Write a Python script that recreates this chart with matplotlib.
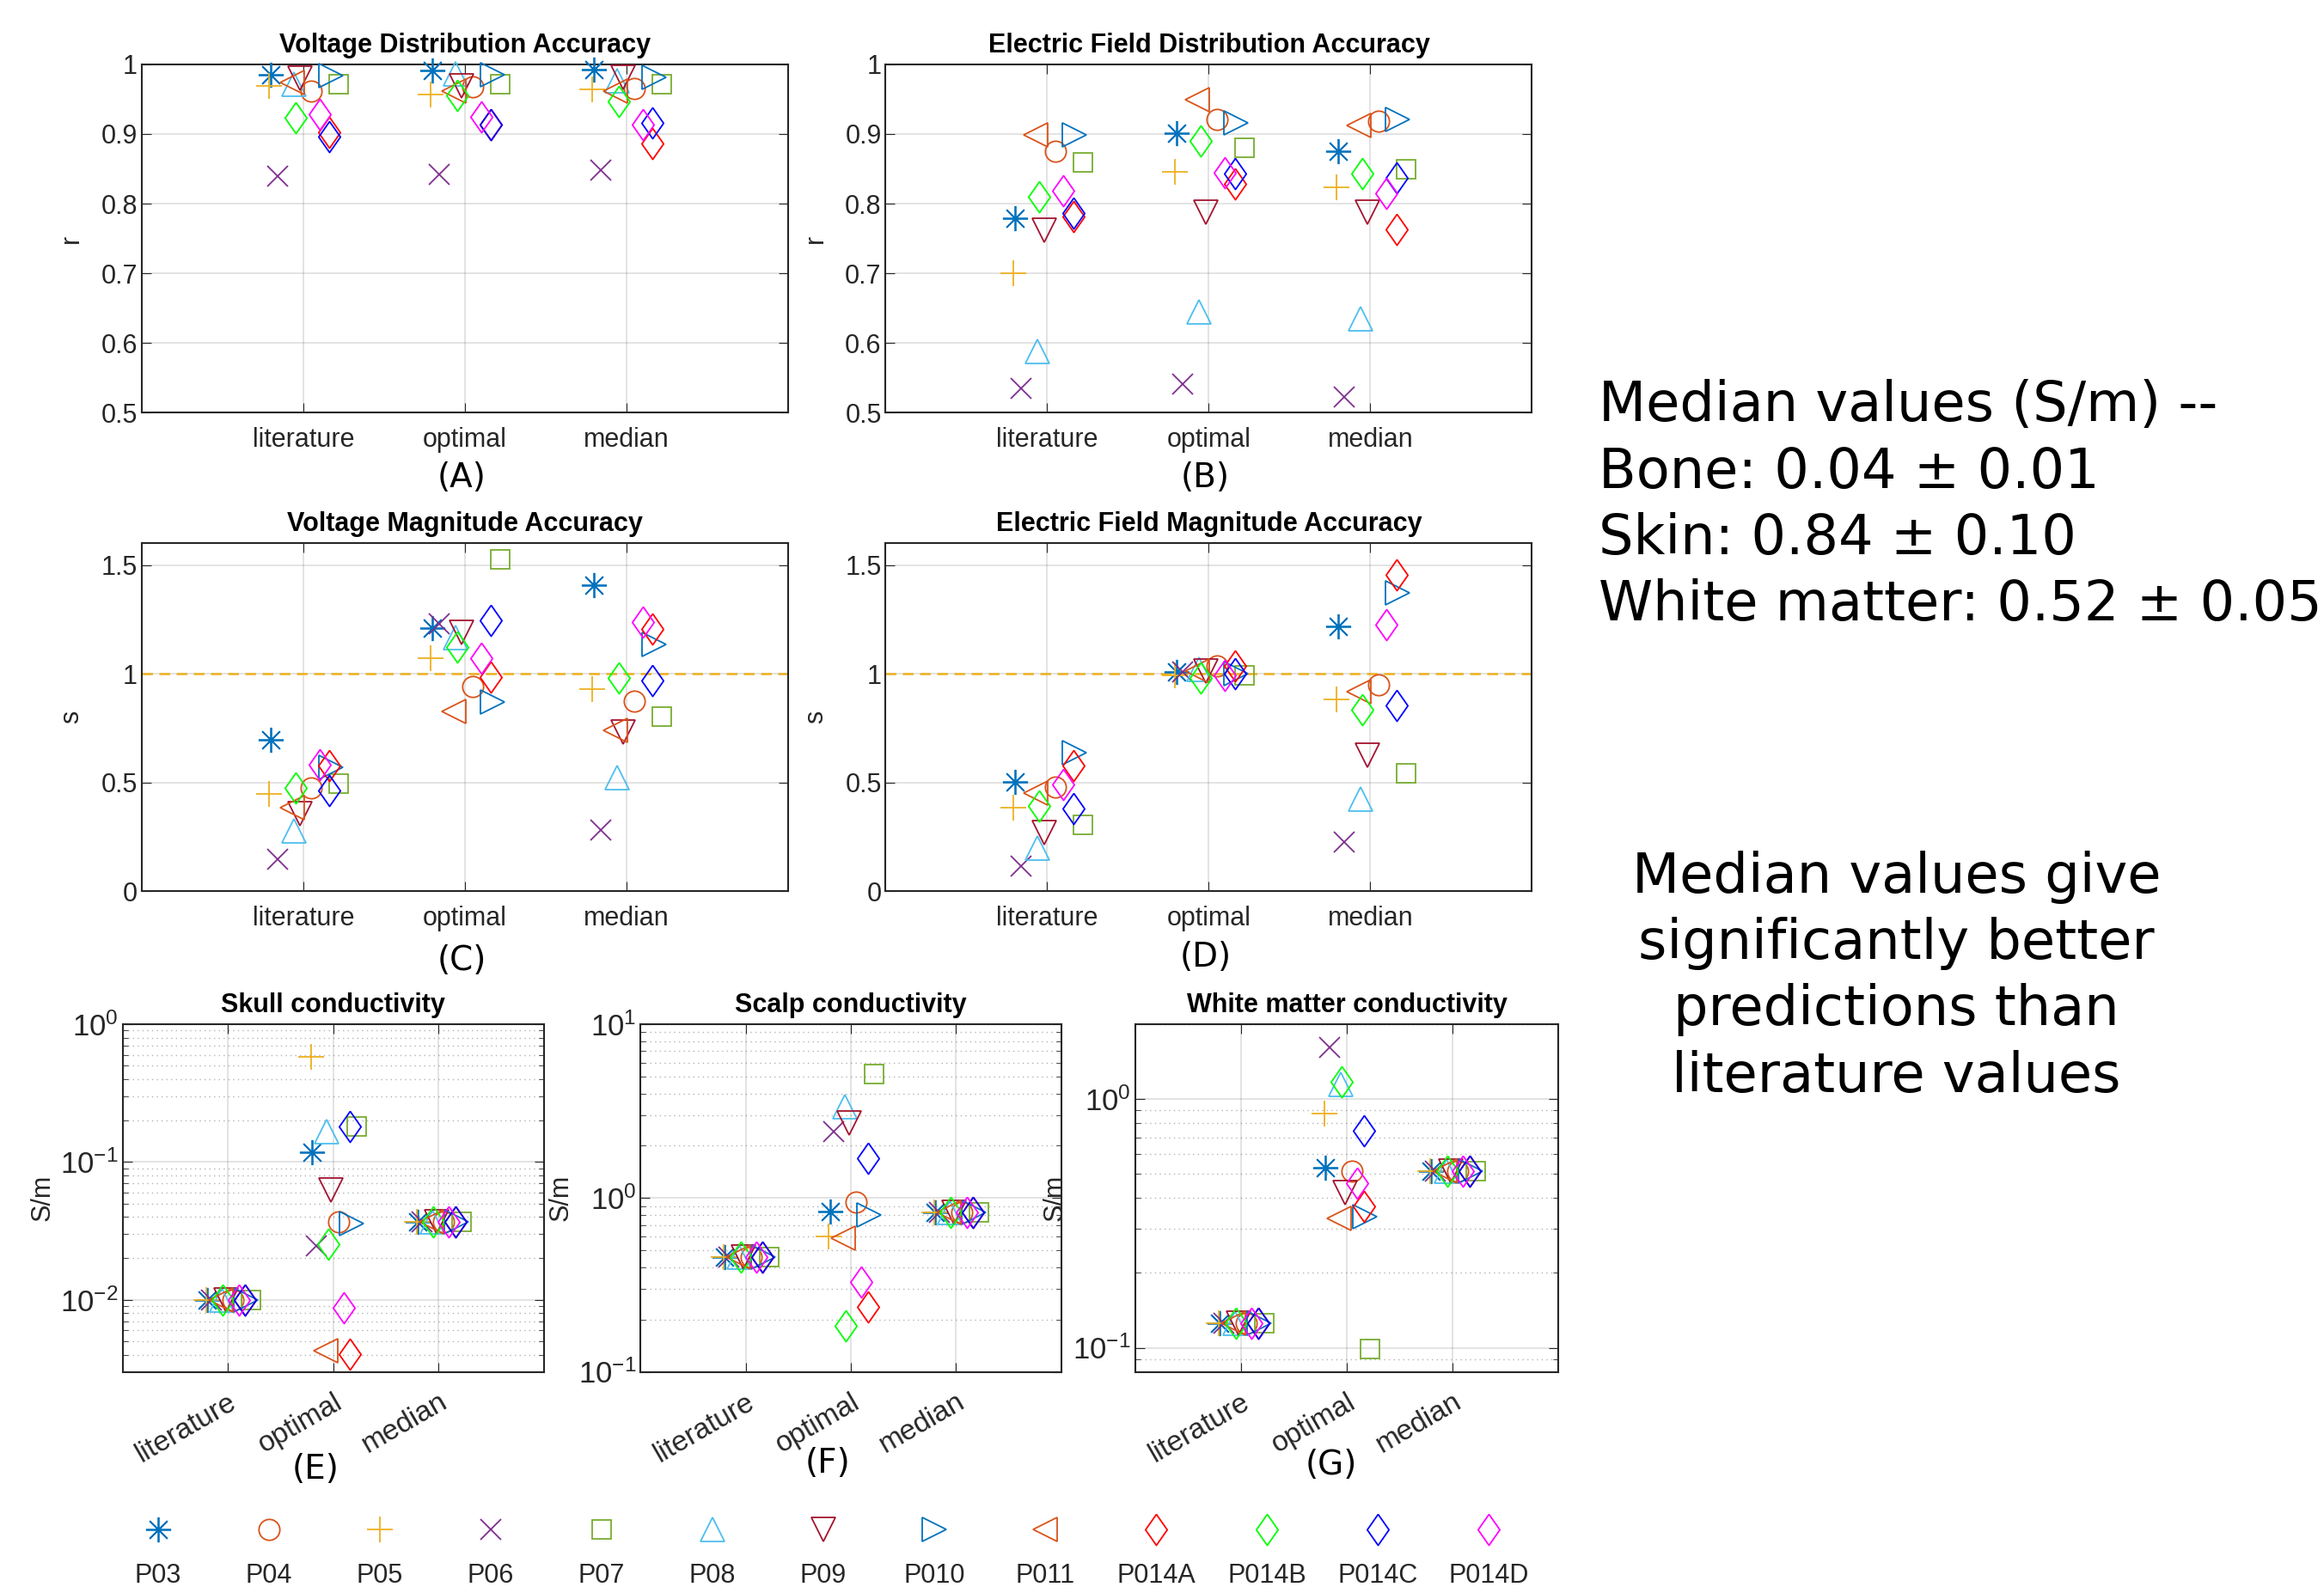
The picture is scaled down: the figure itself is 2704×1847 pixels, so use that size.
import numpy as np
import matplotlib
matplotlib.use('Agg')
import matplotlib.pyplot as plt
from matplotlib.ticker import NullFormatter, FormatStrFormatter

# participants / conditions
participants = ['P03', 'P04', 'P05', 'P06', 'P07', 'P08', 'P09', 'P010', 'P011',
                'P014A', 'P014B', 'P014C', 'P014D']
conditions = ['literature', 'optimal', 'median']

# each panel: [literature, optimal, median], one value per participant
volt_dist = [
    [0.985, 0.962, 0.969, 0.840, 0.971, 0.971, 0.980, 0.984, 0.974, 0.903, 0.923, 0.896, 0.928],
    [0.991, 0.968, 0.957, 0.842, 0.971, 0.987, 0.969, 0.985, 0.962, 0.914, 0.956, 0.914, 0.925],
    [0.993, 0.966, 0.964, 0.848, 0.971, 0.976, 0.982, 0.982, 0.962, 0.887, 0.947, 0.916, 0.914],
]
efield_dist = [
    [0.779, 0.875, 0.700, 0.534, 0.859, 0.588, 0.762, 0.899, 0.899, 0.782, 0.810, 0.786, 0.819],
    [0.901, 0.921, 0.846, 0.541, 0.880, 0.645, 0.788, 0.916, 0.949, 0.828, 0.890, 0.843, 0.844],
    [0.875, 0.918, 0.823, 0.522, 0.850, 0.634, 0.788, 0.921, 0.912, 0.763, 0.843, 0.837, 0.815],
]
volt_mag = [
    [0.696, 0.476, 0.447, 0.148, 0.494, 0.278, 0.357, 0.571, 0.386, 0.576, 0.476, 0.465, 0.581],
    [1.210, 0.941, 1.071, 1.229, 1.524, 1.167, 1.190, 0.869, 0.826, 0.984, 1.121, 1.244, 1.071],
    [1.406, 0.876, 0.931, 0.282, 0.804, 0.523, 0.732, 1.133, 0.739, 1.207, 0.980, 0.970, 1.236],
]
efield_mag = [
    [0.501, 0.480, 0.386, 0.115, 0.307, 0.199, 0.268, 0.638, 0.451, 0.576, 0.393, 0.379, 0.490],
    [1.007, 1.036, 0.993, 1.007, 0.993, 1.020, 1.014, 1.000, 1.014, 1.036, 0.980, 1.000, 0.993],
    [1.219, 0.951, 0.883, 0.228, 0.542, 0.422, 0.624, 1.373, 0.919, 1.455, 0.836, 0.854, 1.225],
]
# conductivities (S/m)
skull = [
    [0.010, 0.010, 0.010, 0.010, 0.010, 0.010, 0.010, 0.010, 0.010, 0.010, 0.010, 0.010, 0.010],
    [0.117, 0.0367, 0.578, 0.0246, 0.181, 0.166, 0.063, 0.0359, 0.00424, 0.00401, 0.0253, 0.181, 0.0087],
    [0.037, 0.037, 0.037, 0.037, 0.037, 0.037, 0.037, 0.037, 0.037, 0.037, 0.037, 0.037, 0.037],
]
scalp = [
    [0.46, 0.46, 0.46, 0.46, 0.46, 0.46, 0.46, 0.46, 0.46, 0.46, 0.46, 0.46, 0.46],
    [0.833, 0.949, 0.601, 2.40, 5.18, 3.35, 2.70, 0.797, 0.588, 0.236, 0.184, 1.69, 0.327],
    [0.83, 0.83, 0.83, 0.83, 0.83, 0.83, 0.83, 0.83, 0.83, 0.83, 0.83, 0.83, 0.83],
]
white_matter = [
    [0.125, 0.125, 0.125, 0.125, 0.125, 0.125, 0.125, 0.125, 0.125, 0.125, 0.125, 0.125, 0.125],
    [0.531, 0.513, 0.877, 1.617, 0.0988, 1.148, 0.421, 0.336, 0.330, 0.370, 1.176, 0.748, 0.458],
    [0.513, 0.513, 0.513, 0.513, 0.513, 0.513, 0.513, 0.513, 0.513, 0.513, 0.513, 0.513, 0.513],
]

# styles (matlab default colours)
c1, c2, c3, c4, c5, c6, c7 = '#0072BD', '#D95319', '#EDB120', '#7E2F8E', '#77AC30', '#4DBEEE', '#A2142F'
colors = [c1, c2, c3, c4, c5, c6, c7, c1, c2, '#FF0000', '#00FF00', '#0000FF', '#FF00FF']
diamond = [(0, 1), (0.7, 0), (0, -1), (-0.7, 0), (0, 1)]
markers = [(8, 2, 0), 'o', '+', 'x', 's', '^', 'v', '>', '<', diamond, diamond, diamond, diamond]
msizes = [21, 17.5, 21, 17, 16, 20, 20, 20, 20, 26, 26, 26, 26]
jitter = [-0.20, 0.05, -0.21, -0.16, 0.22, -0.06, -0.02, 0.17, -0.07, 0.16, -0.05, 0.16, 0.10]

dark = '#262626'
plt.rcParams['font.family'] = ['Liberation Sans', 'DejaVu Sans']
plt.rcParams['mathtext.default'] = 'regular'

fig = plt.figure(figsize=(27.04, 18.47), dpi=100)


def draw_points(ax, data):
    for j in range(len(participants)):
        xs = np.arange(1, 4) + jitter[j]
        ys = [data[k][j] for k in range(3)]
        ax.plot(xs, ys, linestyle='none', marker=markers[j], ms=msizes[j],
                mfc='none', mec=colors[j], mew=1.3, clip_on=False, zorder=3)


def style_axes(ax, title, ylabel):
    ax.set_xlim(0, 4)
    ax.set_xticks([1, 2, 3])
    ax.set_title(title, fontsize=22, fontweight='bold', pad=10)
    ax.set_ylabel(ylabel, fontsize=22, color=dark)
    ax.tick_params(which='both', direction='in', top=True, right=True, colors=dark,
                   labelsize=22, length=8)
    ax.tick_params(which='minor', length=4)
    for s in ax.spines.values():
        s.set_color(dark)
        s.set_linewidth(1.5)
    ax.grid(True, which='major', color=dark, alpha=0.15, lw=1.2)
    ax.set_axisbelow(True)


# top four panels
top = [
    (volt_dist, 'Voltage Distribution Accuracy', 'r', [0.0610, 0.7401], '(A)', (0.1986, 0.699)),
    (efield_dist, 'Electric Field Distribution Accuracy', 'r', [0.3811, 0.7401], '(B)', (0.5187, 0.699)),
    (volt_mag, 'Voltage Magnitude Accuracy', 's', [0.0610, 0.4384], '(C)', (0.1986, 0.3947)),
    (efield_mag, 'Electric Field Magnitude Accuracy', 's', [0.3811, 0.4384], '(D)', (0.5187, 0.3969)),
]
for data, title, ylab, (x0, y0), lab, (lx, ly) in top:
    ax = fig.add_axes([x0, y0, 0.2781, 0.2193])
    draw_points(ax, data)
    style_axes(ax, title, ylab)
    ax.set_xticklabels(conditions)
    ax.tick_params(axis='x', pad=12)
    if ylab == 'r':
        ax.set_ylim(0.5, 1)
        ax.set_yticks(np.arange(0.5, 1.01, 0.1))
    else:
        ax.set_ylim(0, 1.6)
        ax.set_yticks([0, 0.5, 1, 1.5])
        ax.axhline(1, color=c3, ls=(0, (5, 3)), lw=1.8, zorder=2)
    ax.yaxis.set_major_formatter(FormatStrFormatter('%g'))
    ax.yaxis.labelpad = 14
    fig.text(lx, ly, lab, ha='center', va='center', fontsize=28, family='DejaVu Sans')

# bottom three log panels
bottom = [
    (skull, 'Skull conductivity', [0.0528, 0.1812], (0.003, 1), '(E)', (0.1357, 0.074)),
    (scalp, 'Scalp conductivity', [0.2756, 0.1811], (0.1, 10), '(F)', (0.356, 0.0782)),
    (white_matter, 'White matter conductivity', [0.4885, 0.1820], (0.08, 2), '(G)', (0.5727, 0.0771)),
]
for data, title, (x0, w), ylim, lab, (lx, ly) in bottom:
    ax = fig.add_axes([x0, 0.1356, w, 0.2190])
    ax.set_yscale('log')
    draw_points(ax, data)
    style_axes(ax, title, 'S/m')
    ax.set_ylim(*ylim)
    ax.yaxis.set_minor_formatter(NullFormatter())
    ax.tick_params(axis='y', labelsize=25)
    ax.grid(True, which='minor', axis='y', color=dark, alpha=0.35, lw=1.0, ls=(0, (1, 3)))
    ax.set_xticklabels(conditions, rotation=30, ha='right', rotation_mode='anchor', fontsize=24)
    ax.tick_params(axis='x', pad=14)
    fig.text(lx, ly, lab, ha='center', va='center', fontsize=28, family='DejaVu Sans')

# legend row: marker above label
lax = fig.add_axes([0.0679, 0.0, 0.6407 - 0.0679, 0.06])
lax.set_xlim(0, len(participants) - 1)
lax.set_ylim(0, 0.06)
lax.axis('off')
for j, p in enumerate(participants):
    lax.plot(j, 0.0365, linestyle='none', marker=markers[j], ms=msizes[j],
             mfc='none', mec=colors[j], mew=1.3, clip_on=False)
    lax.text(j, 0.0068, p, ha='center', va='center', fontsize=22, color=dark)

# side notes
fig.text(0.688, 0.6815,
         'Median values (S/m) --\nBone: 0.04 \u00b1 0.01\nSkin: 0.84 \u00b1 0.10\nWhite matter: 0.52 \u00b1 0.05',
         ha='left', va='center', fontsize=46, family='DejaVu Sans', linespacing=1.31)
fig.text(0.816, 0.3845,
         'Median values give\nsignificantly better\npredictions than\nliterature values',
         ha='center', va='center', fontsize=46, family='DejaVu Sans', linespacing=1.31,
         multialignment='center')

fig.savefig('out.png', dpi=100)
